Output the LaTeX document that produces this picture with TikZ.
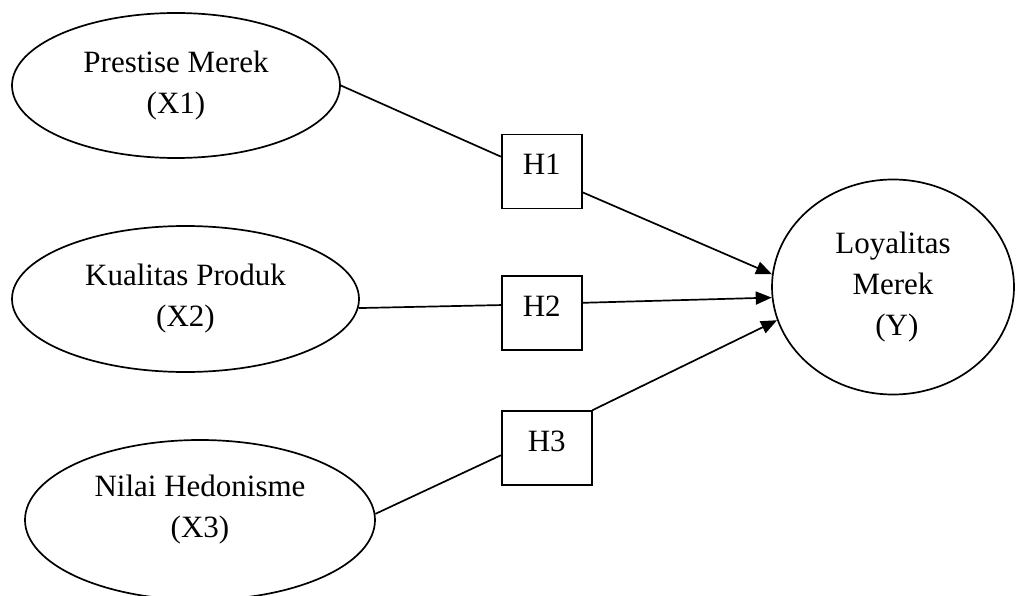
\documentclass[tikz,border=0pt]{standalone}
\usepackage{fontspec}
\setmainfont{Liberation Serif}
\usepackage{tikz}
\usetikzlibrary{arrows.meta,positioning,shapes.geometric}
\definecolor{ink}{HTML}{000000}
\tikzset{
  latent/.style={ellipse,draw=ink,line width=1.7pt,inner sep=0pt,align=center,text=ink,font=\fontsize{31}{41}\selectfont},
  hypbox/.style={rectangle,draw=ink,line width=1.7pt,inner sep=0pt,minimum width=80pt,text height=40pt,text depth=34pt,text=ink,font=\fontsize{31}{41}\selectfont},
  link/.style={line width=1.7pt,draw=ink},
  arrow/.style={link,-{Triangle[length=16pt,width=13pt]}},
}

\begin{document}
\begin{tikzpicture}[x=1pt,y=-1pt]
  \useasboundingbox (0,0) rectangle (1016,596);
  \node[latent,minimum width=328pt,minimum height=145pt] (x1) at (176,85.5) {Prestise Merek\\(X1)};
  \node[latent,minimum width=347pt,minimum height=146pt] (x2) at (185.5,299) {Kualitas Produk\\(X2)};
  \node[latent,minimum width=350pt,minimum height=160pt] (x3) at (200,520) {Nilai Hedonisme\\(X3)\\[-14pt]};
  \node[latent,minimum width=242pt,minimum height=215pt] (y) at (893,287) {Loyalitas\\Merek\\\hspace*{0.25em}(Y)};
  \node[hypbox,right=160pt of x1,yshift=-86pt] (h1) {H1};
  \node[hypbox,right=141pt of x2,yshift=-14pt] (h2) {H2};
  \node[hypbox,minimum width=90pt,right=125pt of x3,yshift=72pt] (h3) {H3};
  \draw[link] (x1.east) -- (h1.160);
  \draw[link] (x2.-3) -- (h2.169);
  \draw[link] (x3.2) -- (h3.189);
  \draw[arrow] (h1.-27) -- (y.174);
  \draw[arrow] (h2.14) -- (y.185);
  \draw[arrow] (h3.north east) -- (y.196);
\end{tikzpicture}
\end{document}
